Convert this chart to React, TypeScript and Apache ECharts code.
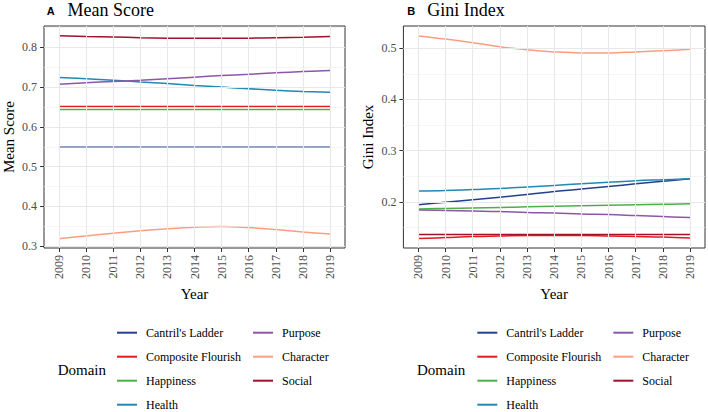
import React, { useEffect, useRef } from 'react';
import * as echarts from 'echarts';

const years = [2009, 2010, 2011, 2012, 2013, 2014, 2015, 2016, 2017, 2018, 2019];
const domains = ["Cantril's Ladder", 'Composite Flourish', 'Happiness', 'Health', 'Purpose', 'Character', 'Social'];
const domainColors = ['#23408E', '#E41A1C', '#4DAF4A', '#2089B5', '#8E56A8', '#FB9E80', '#A3102E'];

// Mean Score panel
const meanCantril = [0.549, 0.549, 0.549, 0.549, 0.549, 0.549, 0.549, 0.549, 0.549, 0.549, 0.549];
const meanComposite = [0.651, 0.651, 0.651, 0.651, 0.651, 0.651, 0.651, 0.651, 0.651, 0.651, 0.651];
const meanHappiness = [0.644, 0.644, 0.644, 0.644, 0.644, 0.644, 0.644, 0.644, 0.644, 0.644, 0.644];
const meanHealth = [0.724, 0.721, 0.717, 0.713, 0.709, 0.704, 0.7, 0.696, 0.692, 0.689, 0.687];
const meanPurpose = [0.707, 0.711, 0.714, 0.717, 0.721, 0.725, 0.729, 0.732, 0.736, 0.739, 0.742];
const meanCharacter = [0.319, 0.326, 0.333, 0.339, 0.344, 0.348, 0.35, 0.347, 0.342, 0.336, 0.331];
const meanSocial = [0.829, 0.827, 0.826, 0.824, 0.823, 0.8225, 0.8225, 0.823, 0.824, 0.825, 0.827];

// Gini Index panel
const giniCantril = [0.194, 0.199, 0.204, 0.209, 0.214, 0.22, 0.225, 0.23, 0.235, 0.24, 0.245];
const giniComposite = [0.128, 0.13, 0.132, 0.133, 0.134, 0.134, 0.134, 0.133, 0.132, 0.131, 0.129];
const giniHappiness = [0.186, 0.187, 0.188, 0.189, 0.19, 0.191, 0.192, 0.193, 0.194, 0.195, 0.196];
const giniHealth = [0.221, 0.222, 0.224, 0.226, 0.229, 0.232, 0.235, 0.238, 0.241, 0.243, 0.245];
const giniPurpose = [0.184, 0.183, 0.182, 0.181, 0.179, 0.178, 0.176, 0.175, 0.173, 0.171, 0.169];
const giniCharacter = [0.524, 0.518, 0.511, 0.503, 0.497, 0.493, 0.491, 0.491, 0.493, 0.495, 0.498];
const giniSocial = [0.136, 0.136, 0.136, 0.136, 0.136, 0.136, 0.136, 0.136, 0.136, 0.136, 0.136];

const meanYTicks = [0.3, 0.4, 0.5, 0.6, 0.7, 0.8];
const meanYMinor = [0.35, 0.45, 0.55, 0.65, 0.75, 0.85];
const giniYTicks = [0.2, 0.3, 0.4, 0.5];
const giniYMinor = [0.15, 0.25, 0.35, 0.45];

const meanSeries = [meanCantril, meanComposite, meanHappiness, meanHealth, meanPurpose, meanCharacter, meanSocial];
const giniSeries = [giniCantril, giniComposite, giniHappiness, giniHealth, giniPurpose, giniCharacter, giniSocial];

const SERIF = 'Liberation Serif';
const SANS = 'Liberation Sans';

function gridSeries(idx: number, major: number[], minor: number[]) {
  return {
    name: '__grid' + idx,
    type: 'line',
    xAxisIndex: idx,
    yAxisIndex: idx,
    data: [],
    silent: true,
    z: 1,
    markLine: {
      silent: true,
      symbol: ['none', 'none'],
      label: { show: false },
      animation: false,
      lineStyle: { type: 'solid', color: '#EBEBEB', width: 1.1 },
      emphasis: { disabled: true },
      data: [
        ...minor.map((v) => ({ yAxis: v, lineStyle: { type: 'solid', color: '#EEEEEE', width: 0.6 } })),
        ...major.map((v) => ({ yAxis: v, lineStyle: { type: 'solid', color: '#E8E8E8', width: 1.1 } })),
        ...years.map((v) => ({ xAxis: v, lineStyle: { type: 'solid', color: '#E8E8E8', width: 1.1 } })),
      ],
    },
  };
}

function dataSeries(idx: number, values: number[][]) {
  return domains.map((d, i) => ({
    name: d,
    type: 'line',
    xAxisIndex: idx,
    yAxisIndex: idx,
    data: years.map((y, j) => [y, values[i][j]]),
    symbol: 'none',
    showSymbol: false,
    smooth: 0.4,
    z: 2,
    lineStyle: { width: 1.5, color: domainColors[i] },
    itemStyle: { color: domainColors[i] },
    emphasis: { disabled: true },
  }));
}

function xAxisCfg(idx: number) {
  return {
    type: 'value',
    gridIndex: idx,
    min: 2008.45,
    max: 2019.55,
    name: 'Year',
    nameLocation: 'middle',
    nameGap: 33,
    nameTextStyle: { fontFamily: SERIF, fontSize: 15, color: '#000' },
    axisLine: { show: false },
    axisTick: { show: true, length: 4, lineStyle: { color: '#333333', width: 1 }, customValues: years },
    axisLabel: {
      customValues: years,
      rotate: 90,
      margin: 7,
      fontFamily: SERIF,
      fontSize: 12,
      color: '#4D4D4D',
      formatter: (v: number) => String(v),
    },
    splitLine: { show: false },
  };
}

function yAxisCfg(idx: number, name: string, min: number, max: number, ticks: number[]) {
  return {
    type: 'value',
    gridIndex: idx,
    min,
    max,
    name,
    nameLocation: 'middle',
    nameGap: 28,
    nameTextStyle: { fontFamily: SERIF, fontSize: 15, color: '#000' },
    axisLine: { show: false },
    axisTick: { show: true, length: 4, lineStyle: { color: '#333333', width: 1 }, customValues: ticks },
    axisLabel: {
      customValues: ticks,
      margin: 7,
      fontFamily: SERIF,
      fontSize: 12,
      color: '#4D4D4D',
      formatter: (v: number) => v.toFixed(1),
    },
    splitLine: { show: false },
  };
}

function legendCfg(left: number) {
  return {
    data: domains,
    left,
    top: 326.7,
    orient: 'vertical',
    height: 100,
    padding: 0,
    icon: 'rect',
    itemWidth: 20,
    itemHeight: 2,
    itemGap: 12,
    selectedMode: false,
    textStyle: { fontFamily: SERIF, fontSize: 12, lineHeight: 12, color: '#000', padding: [0, 0, 0, 4] },
  };
}

export default function App() {
  const ref = useRef<HTMLDivElement>(null);
  useEffect(() => {
    if (!ref.current) return;
    const chart = echarts.init(ref.current, null, { renderer: 'svg' });
    const option = {
      animation: false,
      backgroundColor: '#FFFFFF',
      textStyle: { fontFamily: SERIF },
      grid: [
        { left: 43.4, top: 26, width: 301.6, height: 222, show: true, borderColor: '#333333', borderWidth: 1, backgroundColor: 'transparent' },
        { left: 403.4, top: 26, width: 301.6, height: 222, show: true, borderColor: '#333333', borderWidth: 1, backgroundColor: 'transparent' },
      ],
      xAxis: [xAxisCfg(0), xAxisCfg(1)],
      yAxis: [
        yAxisCfg(0, 'Mean Score', 0.2957, 0.8535, meanYTicks),
        yAxisCfg(1, 'Gini Index', 0.1096, 0.5436, giniYTicks),
      ],
      legend: [legendCfg(117), legendCfg(477.3)],
      graphic: [
        { type: 'text', x: 46.7, y: 10.7, style: { text: 'A', fontFamily: SANS, fontWeight: 'bold', fontSize: 11, fill: '#000', align: 'left', verticalAlign: 'middle' } },
        { type: 'text', x: 67.5, y: 9.8, style: { text: 'Mean Score', fontFamily: SERIF, fontSize: 18, fill: '#000', align: 'left', verticalAlign: 'middle' } },
        { type: 'text', x: 407.3, y: 10.7, style: { text: 'B', fontFamily: SANS, fontWeight: 'bold', fontSize: 11, fill: '#000', align: 'left', verticalAlign: 'middle' } },
        { type: 'text', x: 427.3, y: 9.8, style: { text: 'Gini Index', fontFamily: SERIF, fontSize: 18, fill: '#000', align: 'left', verticalAlign: 'middle' } },
        { type: 'text', x: 57.7, y: 369.5, style: { text: 'Domain', fontFamily: SERIF, fontSize: 15, fill: '#000', align: 'left', verticalAlign: 'middle' } },
        { type: 'text', x: 417, y: 369.5, style: { text: 'Domain', fontFamily: SERIF, fontSize: 15, fill: '#000', align: 'left', verticalAlign: 'middle' } },
      ],
      series: [
        gridSeries(0, meanYTicks, meanYMinor),
        gridSeries(1, giniYTicks, giniYMinor),
        ...dataSeries(0, meanSeries),
        ...dataSeries(1, giniSeries),
      ],
    };
    chart.setOption(option as any);
    return () => chart.dispose();
  }, []);
  return <div ref={ref} style={{ position: 'absolute', left: 0, top: 0, width: 708, height: 412 }} />;
}
